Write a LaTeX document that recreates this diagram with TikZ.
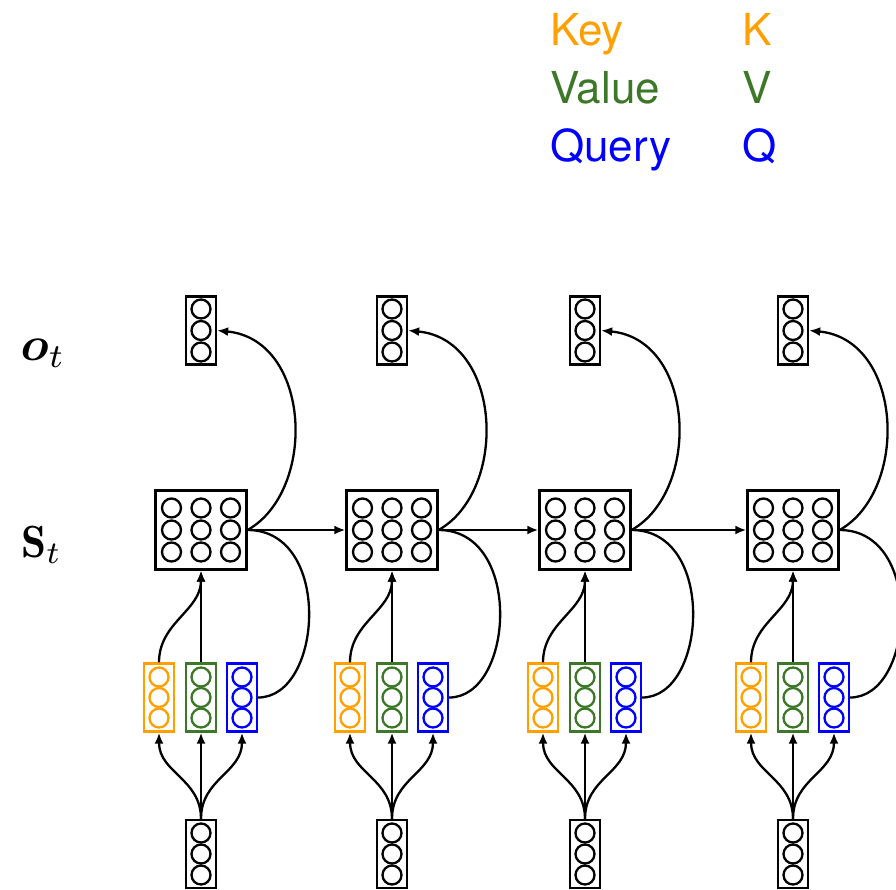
\documentclass[tikz,border=0pt]{standalone}
\usepackage{fontspec}
\usepackage{bm}
\usetikzlibrary{arrows.meta}
\newfontfamily\legendfont{TeX Gyre Heros}
\definecolor{keyc}{RGB}{255,160,0}
\definecolor{valc}{RGB}{60,120,40}
\definecolor{qryc}{RGB}{0,0,255}
\begin{document}
\begin{tikzpicture}[x=1pt,y=-1pt, line width=2.3pt,
  vec/.style={draw, rectangle, minimum width=30pt, minimum height=68pt, inner sep=0pt},
  mat/.style={draw, rectangle, minimum width=91pt, minimum height=79pt, inner sep=0pt},
  cell/.style={draw, circle, minimum size=19pt, inner sep=0pt},
  arr/.style={-{Latex[length=11pt,width=9pt]}},
  legend/.style={anchor=base west, inner sep=0pt, font=\legendfont\fontsize{44}{50}\selectfont},
  lab/.style={anchor=base west, inner sep=0pt}]
\useasboundingbox (0,0) rectangle (896,889);
\clip (0,0) rectangle (896,889);

% legend
\node[legend, text=keyc] (lkey) at (549,45) {Key};
\node[legend, text=keyc] (lk) at (741,45) {K};
\node[legend, text=valc] (lval) at (549,103) {Value};
\node[legend, text=valc] (lv) at (741,103) {V};
\node[legend, text=qryc] (lqry) at (549,161) {Query};
\node[legend, text=qryc] (lq) at (741,161) {Q};

% row labels
\node[lab, scale=4.8] (olab) at (15,360) {$\bm{o}_t$};
\node[lab, scale=4.5] (slab) at (16,557) {$\mathbf{S}_t$};

\foreach \i/\cx in {1/201,2/392,3/585,4/793} {
  % output
  \node[vec] (o\i) at (\cx,330.5) {};
  \foreach \dy/\n in {-21.5/a,0/b,21.5/c}
    \node[cell] (o\i\n) at (\cx,330.5+\dy) {};
  % state matrix
  \node[mat] (s\i) at (\cx,530) {};
  \foreach \dx/\m in {-29.5/a,0/b,29.5/c}
    \foreach \dy/\n in {-22/a,0/b,22/c}
      \node[cell] (s\i\m\n) at (\cx+\dx,530+\dy) {};
  % key, value, query
  \node[vec, draw=keyc] (k\i) at (\cx-42,697.5) {};
  \node[vec, draw=valc] (v\i) at (\cx,697.5) {};
  \node[vec, draw=qryc] (q\i) at (\cx+41,697.5) {};
  \foreach \dy/\n in {-20.5/a,0/b,20.5/c} {
    \node[cell, draw=keyc] (k\i\n) at (\cx-42,697.5+\dy) {};
    \node[cell, draw=valc] (v\i\n) at (\cx,697.5+\dy) {};
    \node[cell, draw=qryc] (q\i\n) at (\cx+41,697.5+\dy) {};
  }
  % input
  \node[vec] (x\i) at (\cx,854) {};
  \foreach \dy/\n in {-21/a,0/b,21/c}
    \node[cell] (x\i\n) at (\cx,854+\dy) {};
  % connectors
  \draw[arr] (x\i.north) .. controls +(0,-40) and +(0,40) .. (k\i.south);
  \draw[arr] (x\i.north) -- (v\i.south);
  \draw[arr] (x\i.north) .. controls +(0,-40) and +(0,40) .. (q\i.south);
  \draw[arr] (k\i.north) .. controls +(0,-40) and +(0,40) .. (s\i.south);
  \draw[arr] (v\i.north) -- (s\i.south);
  \draw (q\i.east) .. controls +(65,0) and +(85,0) .. (s\i.east);
  \draw[arr] (s\i.east) .. controls +(70,-40) and +(94,9) .. (o\i.east);
}
\draw[arr] (s1.east) -- (s2.west);
\draw[arr] (s2.east) -- (s3.west);
\draw[arr] (s3.east) -- (s4.west);
\end{tikzpicture}
\end{document}
